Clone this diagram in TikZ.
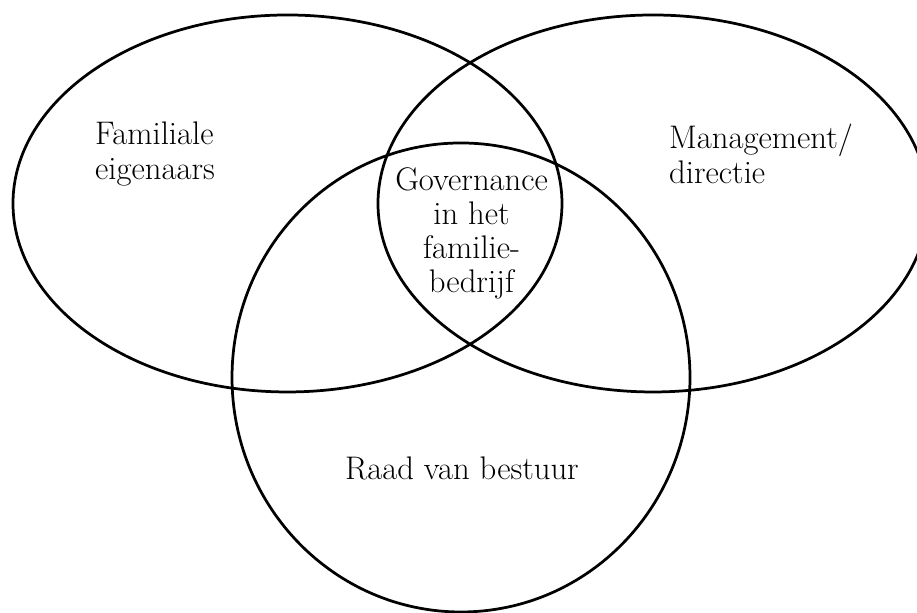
\documentclass[tikz,border=0pt]{standalone}
\usepackage{tikz}

\tikzset{
  setline/.style={line width=2.6pt},
  setlabel/.style={inner sep=0pt, font=\fontsize{31}{32.5}\selectfont}
}

\begin{document}
\begin{tikzpicture}
            \useasboundingbox (0,0) rectangle (30.567,20.433);
            \clip (0,0) rectangle (30.567,20.433);

            % centres of the three sets
            \coordinate (eigenaars) at (9.583,13.65);
            \coordinate (directie) at (21.767,13.65);
            \coordinate (raad) at (15.367,7.85);

            \draw[setline] (eigenaars) ellipse (9.15 and 6.283);
            \draw[setline] (directie) ellipse (9.167 and 6.283);
            \draw[setline] (raad) ellipse (7.633 and 7.817);

            \node[setlabel, anchor=west, align=left] (eigenaarstext) at (3.167,15.3) {Familiale\\eigenaars};
            \node[setlabel, anchor=west, align=left] (directietext) at (22.3,15.3) {Management/\\directie};
            \node[setlabel, align=center] (governancetext) at (15.72,12.65) {Governance\\in het\\familie-\\bedrijf};
            \node[setlabel, anchor=base] (raadtext) at (15.4,4.433) {Raad van bestuur};
        \end{tikzpicture}
\end{document}
